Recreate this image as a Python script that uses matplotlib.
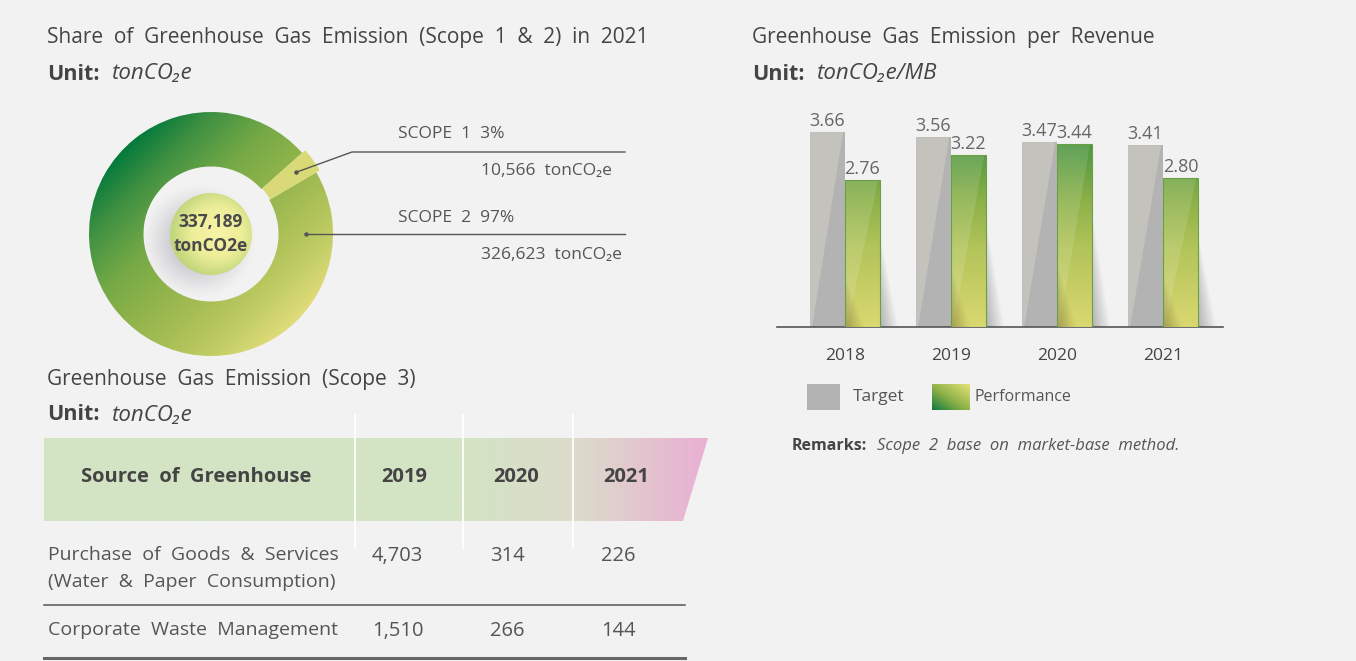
import numpy as np
import matplotlib
matplotlib.use("Agg")
import matplotlib.pyplot as plt
from matplotlib.colors import LinearSegmentedColormap, to_rgb
from matplotlib.patches import Wedge, Circle, Polygon, Rectangle

W, H = 1356, 661
FONT = ["Open Sans", "DejaVu Sans"]
plt.rcParams["font.family"] = FONT

# scope 1 & 2 split (tonCO2e)
scope_names = ["SCOPE 1", "SCOPE 2"]
scope_values = [10566, 326623]
scope_pct = ["3%", "97%"]

# emission per revenue (tonCO2e/MB)
rev_years = ["2018", "2019", "2020", "2021"]
rev_target = [3.66, 3.56, 3.47, 3.41]
rev_perf = [2.76, 3.22, 3.44, 2.80]

# scope 3 table
s3_years = ["2019", "2020", "2021"]
s3_sources = ["Purchase of Goods & Services\n(Water & Paper Consumption)",
              "Corporate Waste Management"]
s3_values = [[4703, 314, 226],
             [1510, 266, 144]]

TXT = "#555555"
DARK = "#444444"

fig = plt.figure(figsize=(W / 100, H / 100), dpi=100, facecolor="#f2f2f2")

# page-level axes in pixel units: one under the charts, one above them
ax0 = fig.add_axes([0, 0, 1, 1], zorder=0)
ax0.axis("off")
axt = fig.add_axes([0, 0, 1, 1], zorder=10)
axt.axis("off")
axt.patch.set_alpha(0)


def wide(s):
    return s.replace(" ", "  ")


def txt(x, y, s, size=12, color=TXT, ax=None, **kw):
    (ax or ax0).text(x, y, s, fontsize=size, color=color, va="center", family=FONT, **kw)


def unit_line(x, y, unit):
    txt(x, y, "Unit:", size=15.5, color=DARK, weight="bold")
    txt(x + 65, y, unit, size=16, color=DARK, style="italic")


txt(47, 38, wide("Share of Greenhouse Gas Emission (Scope 1 & 2) in 2021"), size=15, color=DARK)
unit_line(47, 74, "tonCO\u2082e")
txt(752, 38, wide("Greenhouse Gas Emission per Revenue"), size=15, color=DARK)
unit_line(752, 74, "tonCO\u2082e/MB")
txt(47, 380, wide("Greenhouse Gas Emission (Scope 3)"), size=15, color=DARK)
unit_line(47, 415, "tonCO\u2082e")

# ---- scope 3 table ----
head = Polygon([(44, 438), (708, 438), (683, 521), (44, 521)], closed=True,
               facecolor="none", edgecolor="none")
ax0.add_patch(head)
head_cmap = LinearSegmentedColormap.from_list(
    "head", [(0, "#d3e4c4"), (0.63, "#d3e4c4"), (0.8, "#dcdccb"), (1, "#eab0d3")])
grad = np.linspace(0, 1, 300).reshape(1, -1)
im = ax0.imshow(grad, extent=(44, 708, 521, 438), cmap=head_cmap, aspect="auto",
                interpolation="bilinear")
im.set_clip_path(head)

col_x = [372, 490, 601]
head_x = [404, 516, 626]
for xs in [355, 463, 573]:
    ax0.plot([xs, xs], [415, 548], color="white", lw=1.4, alpha=0.9)

txt(196, 477, wide("Source of Greenhouse"), size=14.5, color=DARK, weight="bold", ha="center")
for hx, yr in zip(head_x, s3_years):
    txt(hx, 477, yr, size=14.5, color=DARK, weight="bold", ha="center")

row_y = [555, 630]
for ry, src, vals in zip(row_y, s3_sources, s3_values):
    for i, ln in enumerate(src.split("\n")):
        txt(48, ry + 27 * i, wide(ln), size=14)
    for cx, v in zip(col_x, vals):
        txt(cx, ry + 1, f"{v:,}", size=14.5)
ax0.plot([44, 685], [605, 605], color="#555555", lw=1.1)
ax0.plot([44, 685], [658, 658], color="#666666", lw=2.2)

# ---- donut ----
cx_px, cy_px, ppu = 211, 234, 100.0
axd = fig.add_axes([(cx_px - 130) / W, 1 - (cy_px + 130) / H, 260 / W, 260 / H], zorder=2)
axd.set_xlim(-1.3, 1.3)
axd.set_ylim(-1.3, 1.3)
axd.axis("off")

r_out, r_in = 1.22, 0.675
total = sum(scope_values)
s1_span = 360.0 * scope_values[0] / total
s1_mid = 36.0
t1, t2 = s1_mid - s1_span / 2, s1_mid + s1_span / 2

gx = np.linspace(-1.3, 1.3, 400)
GX, GY = np.meshgrid(gx, gx)
ring_cmap = LinearSegmentedColormap.from_list(
    "ring", [(0, "#047a3c"), (0.15, "#3f9042"), (0.35, "#74a946"), (0.5, "#8db24a"),
             (0.7, "#a9bf56"), (0.85, "#c0cd64"), (1, "#e0dc7a")])
tval = np.clip((GX - GY + 1.72) / 3.44, 0, 1)
ring = Wedge((0, 0), r_out, t2, t1 + 360, width=r_out - r_in, facecolor="none",
             edgecolor="none")
axd.add_patch(ring)
im = axd.imshow(tval, extent=(-1.3, 1.3, -1.3, 1.3), origin="lower", cmap=ring_cmap,
                interpolation="bilinear")
im.set_clip_path(ring)
axd.add_patch(Wedge((0, 0), r_out + 0.04, t1, t2, width=r_out + 0.04 - r_in - 0.01,
                    facecolor="#dad978", edgecolor="none"))

# shadow behind the center ball
d = np.hypot(GX + 0.12, GY + 0.07)
sh = np.zeros(GX.shape + (4,))
sh[..., :3] = to_rgb("#8e8e9c")
sh[..., 3] = 0.85 * np.clip(1 - d / 0.58, 0, 1) ** 1.3
hole = Circle((0, 0), r_in, facecolor="none", edgecolor="none")
axd.add_patch(hole)
im = axd.imshow(sh, extent=(-1.3, 1.3, -1.3, 1.3), origin="lower", interpolation="bilinear")
im.set_clip_path(hole)

ball_cmap = LinearSegmentedColormap.from_list(
    "ball", [(0, "#f7f3a6"), (0.55, "#eeee9a"), (1, "#c2d67c")])
ball = Circle((0, 0), 0.41, facecolor="none", edgecolor="none")
axd.add_patch(ball)
bd = np.clip(np.hypot(GX - 0.06, GY - 0.02) / 0.45, 0, 1)
im = axd.imshow(bd, extent=(-1.3, 1.3, -1.3, 1.3), origin="lower", cmap=ball_cmap,
                interpolation="bilinear")
im.set_clip_path(ball)
axd.text(0, 0.12, f"{total:,}", ha="center", va="center", fontsize=12.5,
         weight="bold", color="#4a4a4a")
axd.text(0, -0.12, "tonCO2e", ha="center", va="center", fontsize=12.5,
         weight="bold", color="#4a4a4a")

# leader lines and labels
r_mid = (r_out + r_in) / 2 + 0.1
a = np.radians(s1_mid)
p1 = (cx_px + r_mid * np.cos(a) * ppu, cy_px - r_mid * np.sin(a) * ppu)
axt.plot([p1[0], 352, 625], [p1[1], 152, 152], color="#555555", lw=1)
axt.plot([p1[0]], [p1[1]], "o", ms=2.2, color="#555555")
p2 = (cx_px + ((r_out + r_in) / 2) * ppu, cy_px)
axt.plot([p2[0], 625], [p2[1], p2[1]], color="#555555", lw=1)
axt.plot([p2[0]], [p2[1]], "o", ms=2.2, color="#555555")

for (ly, vy), name, pct, val in zip([(134, 171), (218, 255)], scope_names, scope_pct,
                                    scope_values):
    txt(398, ly, f"{wide(name)}  {pct}", size=12.5)
    txt(481, vy, wide(f"{val:,} tonCO\u2082e"), size=12.5)

# ---- bars ----
px_per_unit = 53.3
base_px, top_px, left_px, right_px = 327, 100, 777, 1223
axb = fig.add_axes([left_px / W, 1 - base_px / H, (right_px - left_px) / W,
                    (base_px - top_px) / H], zorder=2)
axb.patch.set_alpha(0)
x = np.arange(len(rev_years))
w = 0.33
perf_cmap = LinearSegmentedColormap.from_list(
    "perf", [(0, "#dad870"), (0.4, "#b2c45a"), (0.65, "#8bb048"), (1, "#3a8f40")])
ymax_grad = 3.7

for xi, tv, pv in zip(x, rev_target, rev_perf):
    # target bar with lighter left facet
    tx0 = xi - w
    axb.add_patch(Rectangle((tx0, 0), w, tv, facecolor="#b3b3b3", edgecolor="none", zorder=2))
    axb.add_patch(Polygon([(tx0, 0), (tx0 + 0.06 * w, 0), (tx0 + 0.95 * w, tv), (tx0, tv)],
                          facecolor="#c3c2bd", edgecolor="none", zorder=2))
    # performance bar, gradient in absolute height
    px0 = xi
    rect = Rectangle((px0, 0), w, pv, facecolor="none", edgecolor="none")
    axb.add_patch(rect)
    col = (np.linspace(0, pv, 120) / ymax_grad).reshape(-1, 1)
    im = axb.imshow(col, extent=(px0, px0 + w, 0, pv), origin="lower", cmap=perf_cmap,
                    vmin=0, vmax=1, aspect="auto", interpolation="bilinear", zorder=3)
    im.set_clip_path(rect)
    axb.add_patch(Polygon([(px0, 0), (px0 + 0.06 * w, 0), (px0 + 0.95 * w, pv), (px0, pv)],
                          facecolor="white", alpha=0.12, edgecolor="none", zorder=4))
    axb.add_patch(Rectangle((px0, 0), w, pv, facecolor="none", edgecolor="#6a9f45",
                            lw=0.8, zorder=5))
    # cast shadows
    u, v = np.meshgrid(np.linspace(0, 1, 60), np.linspace(0, 1, 120))
    s = np.zeros(u.shape + (4,))
    s[..., :3] = 0.45
    s[..., 3] = 0.5 * np.clip(1 - u / (1 - v + 1e-6), 0, 1) * (1 - v) ** 0.6
    axb.imshow(s, extent=(px0 + w, px0 + w + 0.17, 0, 0.62 * pv), origin="lower",
               aspect="auto", interpolation="bilinear", zorder=2)
    s2 = np.zeros(u.shape + (4,))
    s2[..., :3] = to_rgb("#6b6030")
    s2[..., 3] = 0.5 * np.clip(1 - u / (1 - v + 1e-6), 0, 1) * (1 - v) ** 0.8
    axb.imshow(s2, extent=(px0, px0 + 0.55 * w, 0, 0.35 * pv), origin="lower",
               aspect="auto", interpolation="bilinear", zorder=4)

    axb.text(tx0 + w / 2, tv + 0.04, f"{tv:.2f}", ha="center", va="bottom", fontsize=13,
             color="#666666")
    axb.text(px0 + w / 2, pv + 0.04, f"{pv:.2f}", ha="center", va="bottom", fontsize=13,
             color="#666666")

axb.set_xlim((left_px - 845) / 106, (right_px - 845) / 106)
axb.set_ylim(0, (base_px - top_px) / px_per_unit)
axb.set_aspect("auto")
axb.set_xticks(x)
axb.set_xticklabels(rev_years, fontsize=12.5, color=DARK)
axb.tick_params(axis="x", length=0, pad=15)
axb.set_yticks([])
for sp in ["top", "left", "right"]:
    axb.spines[sp].set_visible(False)
axb.spines["bottom"].set_color("#555555")
axb.spines["bottom"].set_linewidth(1.2)

# legend
ax0.add_patch(Rectangle((807, 384), 33, 26, facecolor="#b3b3b3", edgecolor="none"))
txt(853, 397, "Target", size=12.5)
leg = Rectangle((932, 384), 38, 26, facecolor="none", edgecolor="none")
ax0.add_patch(leg)
lu, lv = np.meshgrid(np.linspace(0, 1, 40), np.linspace(0, 1, 30))
leg_cmap = LinearSegmentedColormap.from_list(
    "leg", [(0, "#137a3e"), (0.45, "#8cb048"), (1, "#e4e276")])
im = ax0.imshow((lu + lv) / 2, extent=(932, 970, 410, 384), cmap=leg_cmap, aspect="auto",
                origin="lower", interpolation="bilinear")
im.set_clip_path(leg)
txt(975, 397, "Performance", size=11.5)

txt(792, 446, "Remarks:", size=11.5, color=DARK, weight="bold")
txt(877, 446, wide("Scope 2 base on market-base method."), size=12, style="italic")

for a_ in (ax0, axt):
    a_.set_xlim(0, W)
    a_.set_ylim(H, 0)
    a_.set_aspect("auto")

fig.savefig("out.png", dpi=100, facecolor=fig.get_facecolor())
